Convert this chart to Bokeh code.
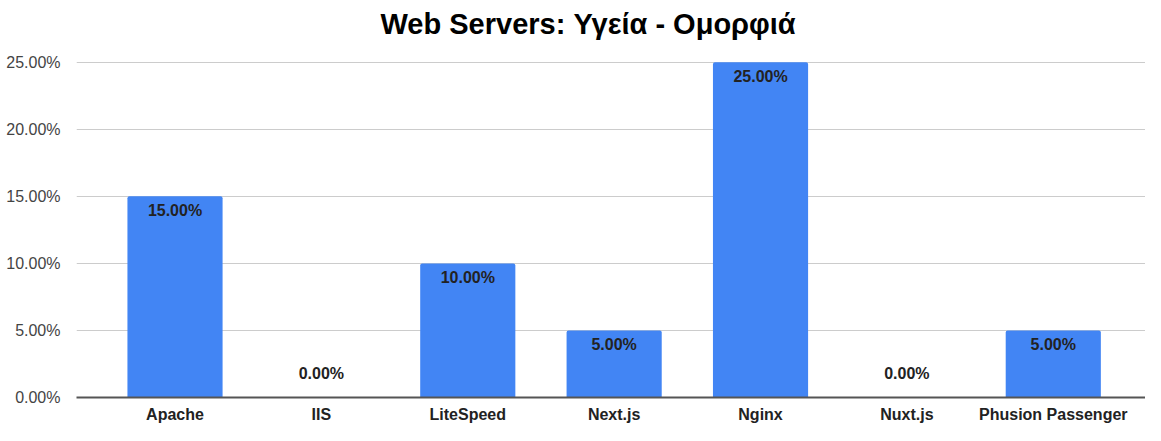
from bokeh.plotting import figure
from bokeh.models import ColumnDataSource, Range1d, FixedTicker, NumeralTickFormatter
from bokeh.core.properties import value
from bokeh.embed import file_html
from bokeh.resources import INLINE

categories = ["Apache", "IIS", "LiteSpeed", "Next.js", "Nginx", "Nuxt.js", "Phusion Passenger"]
shares = [0.15, 0.0, 0.10, 0.05, 0.25, 0.0, 0.05]
y_ticks = [0.0, 0.05, 0.10, 0.15, 0.20, 0.25]
title_text = "Web Servers: Υγεία - Ομορφιά"

FONT = "Liberation Sans"

xs = list(range(len(categories)))
labels = ["{:.2f}%".format(v * 100) for v in shares]
offsets = [14 if v > 0 else -24 for v in shares]

src = ColumnDataSource(dict(x=xs, top=shares, label=labels, off=offsets))

p = figure(width=1145, height=425, output_backend="svg", toolbar_location=None,
           x_range=Range1d(-0.673, 6.63), y_range=Range1d(0, 0.2632),
           title=title_text, min_border_left=76, min_border_right=0,
           min_border_top=0, min_border_bottom=0)
p.outline_line_color = None
p.background_fill_color = "white"
p.border_fill_color = "white"

p.title.text_font = FONT
p.title.text_font_size = "29px"
p.title.text_font_style = "bold"
p.title.text_color = "#000000"
p.title.align = "left"
p.title.offset = 304

p.vbar(x="x", top="top", width=0.65, source=src, fill_color="#4285F4",
       line_color=None, border_radius=(2, 2, 0, 0))

p.text(x="x", y="top", text="label", y_offset="off", source=src,
       text_align="center", text_baseline="middle",
       text_font=value(FONT), text_font_size="16px", text_font_style="bold",
       text_color="#222222")

p.xaxis.ticker = FixedTicker(ticks=xs)
p.xaxis.major_label_overrides = {i: c for i, c in enumerate(categories)}
p.xaxis.major_label_text_font = FONT
p.xaxis.major_label_text_font_size = "16px"
p.xaxis.major_label_text_font_style = "bold"
p.xaxis.major_label_text_color = "#222222"
p.xaxis.major_tick_line_color = None
p.xaxis.minor_tick_line_color = None
p.xaxis.axis_line_color = "#555555"
p.xaxis.axis_line_width = 2
p.xaxis.major_label_standoff = 2

p.yaxis.ticker = FixedTicker(ticks=y_ticks)
p.yaxis.formatter = NumeralTickFormatter(format="0.00%")
p.yaxis.major_label_text_font = FONT
p.yaxis.major_label_text_font_size = "16px"
p.yaxis.major_label_text_color = "#444444"
p.yaxis.major_tick_line_color = None
p.yaxis.minor_tick_line_color = None
p.yaxis.axis_line_color = None
p.yaxis.major_label_standoff = 10

p.xgrid.grid_line_color = None
p.ygrid.grid_line_color = "#cccccc"
p.ygrid.grid_line_width = 1

open("out.html", "w").write(file_html(p, INLINE))
